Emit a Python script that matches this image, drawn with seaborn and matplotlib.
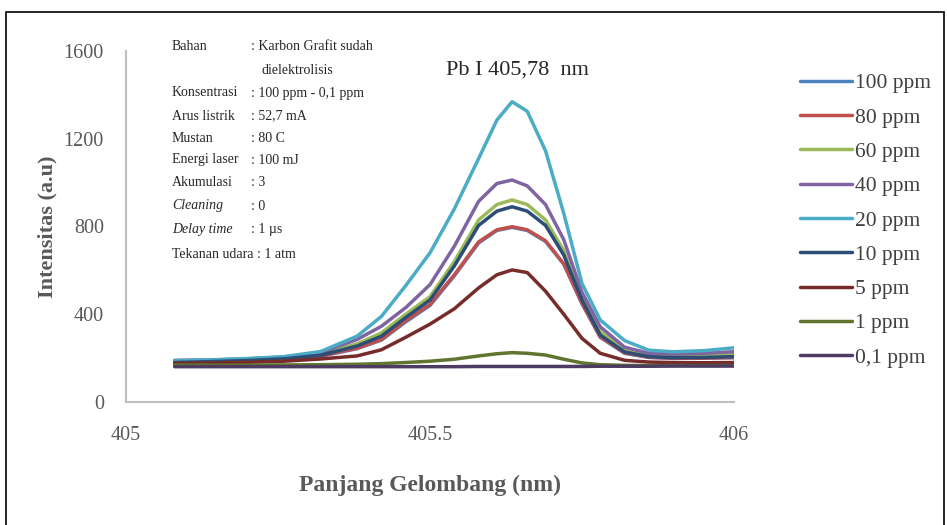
import numpy as np
import pandas as pd
import matplotlib
matplotlib.use("Agg")
import matplotlib.pyplot as plt
import seaborn as sns

# ── data ─────────────────────────────────────────────────────
wavelength = [405.08, 405.14, 405.20, 405.26, 405.32, 405.38, 405.42, 405.46,
              405.50, 405.54, 405.58, 405.61, 405.635, 405.66, 405.69, 405.72,
              405.75, 405.78, 405.82, 405.86, 405.90, 405.95, 406.00]

ppm_100 = [180, 183, 188, 195, 208, 243, 282, 365, 440, 575, 725, 782, 796,
           782, 732, 628, 448, 295, 222, 203, 199, 200, 202]
ppm_80 = [180, 183, 188, 196, 210, 245, 285, 370, 445, 580, 730, 785, 799,
          785, 735, 630, 450, 297, 224, 204, 200, 200, 203]
ppm_60 = [184, 188, 193, 201, 218, 265, 315, 400, 480, 640, 830, 900, 921,
          900, 830, 690, 480, 320, 240, 214, 212, 215, 219]
ppm_40 = [190, 192, 197, 205, 225, 285, 345, 430, 535, 710, 915, 996, 1012,
          985, 900, 740, 500, 343, 250, 222, 218, 222, 229]
ppm_20 = [188, 192, 198, 207, 230, 300, 390, 530, 680, 880, 1110, 1285, 1369,
          1325, 1145, 860, 540, 374, 280, 236, 229, 234, 247]
ppm_10 = [180, 184, 189, 197, 213, 255, 300, 385, 465, 620, 805, 870, 890,
          870, 805, 670, 465, 305, 228, 207, 202, 203, 207]
ppm_5 = [176, 178, 181, 186, 196, 210, 238, 295, 355, 425, 520, 580, 602,
         590, 505, 400, 290, 222, 190, 182, 180, 179, 180]
ppm_1 = [168, 168, 168, 169, 170, 172, 175, 180, 186, 195, 210, 220, 225,
         222, 214, 195, 178, 170, 167, 166, 166, 166, 166]
ppm_01 = [161, 161, 161, 161, 161, 161, 161, 161, 161, 161, 162, 162, 162,
          162, 162, 162, 162, 163, 163, 163, 164, 164, 164]

labels = ["100 ppm", "80 ppm", "60 ppm", "40 ppm", "20 ppm",
          "10 ppm", "5 ppm", "1 ppm", "0,1 ppm"]
series = [ppm_100, ppm_80, ppm_60, ppm_40, ppm_20, ppm_10, ppm_5, ppm_1, ppm_01]
colors = ["#4F81BD", "#C0504D", "#9BBB59", "#8064A2", "#4BACC6",
          "#2C4D75", "#772C2A", "#5F7530", "#4D3B62"]

info_keys = ["Bahan", "", "Konsentrasi", "Arus listrik", "Mustan",
             "Energi laser", "Akumulasi", "Cleaning", "Delay time"]
info_vals = [": Karbon Grafit sudah", "dielektrolisis", ": 100 ppm - 0,1 ppm",
             ": 52,7 mA", ": 80 C", ": 100 mJ", ": 3", ": 0", ": 1 \u00b5s"]
info_last = "Tekanan udara : 1 atm"

df = pd.DataFrame({
    "wl": np.tile(wavelength, len(series)),
    "val": np.concatenate(series),
    "conc": np.repeat(labels, len(wavelength)),
})

# ── plot ──────────────────────────────────────────────────────
sns.set_style("white")
plt.rcParams["font.family"] = ["Liberation Serif", "DejaVu Serif"]

W, H = 947, 525
fig = plt.figure(figsize=(W / 100, H / 100), dpi=100)
ax = fig.add_axes([126 / W, 1 - 402 / H, (734 - 126) / W, (402 - 51) / H])

sns.lineplot(data=df, x="wl", y="val", hue="conc", hue_order=labels,
             palette=colors, linewidth=2.5, ax=ax, legend=False)

ax.set_xlim(405, 406)
ax.set_ylim(0, 1600)
ax.set_xticks([405, 405.5, 406])
ax.set_xticklabels(["405", "405.5", "406"])
ax.set_yticks([0, 400, 800, 1200, 1600])
ax.tick_params(axis="both", length=0, labelsize=14.5, colors="#595959")
ax.tick_params(axis="x", pad=17)
ax.tick_params(axis="y", pad=16)
for s in ["top", "right"]:
    ax.spines[s].set_visible(False)
for s in ["left", "bottom"]:
    ax.spines[s].set_color("#BFBFBF")
    ax.spines[s].set_linewidth(1.5)

ax.set_xlabel("Panjang Gelombang (nm)", fontsize=17, fontweight="bold",
              color="#595959", labelpad=22)
ax.set_ylabel("Intensitas (a.u)", fontsize=16, fontweight="bold",
              color="#595959", labelpad=4)

# legend
handles = [plt.Line2D([], [], color=c, lw=2.5) for c in colors]
fig.legend(handles, labels, loc="upper left", bbox_to_anchor=(781 / W, 1 - 54 / H),
           frameon=False, fontsize=15.5, labelspacing=0.66, handlelength=2.42,
           handletextpad=0.14, labelcolor="#404040")

# info text block
def px(x, y):
    return x / W, 1 - y / H

ys = [47, 70, 93, 116, 138, 160, 183, 206, 229]
for k, v, y in zip(info_keys, info_vals, ys):
    st = "italic" if k in ("Cleaning", "Delay time") else "normal"
    fig.text(*px(172, y), k, fontsize=10, color="#262626", va="center",
             style=st)
    xv = 262 if k == "" else 251
    fig.text(*px(xv, y), v, fontsize=10, color="#262626", va="center")
fig.text(*px(172, 255), info_last, fontsize=10, color="#262626", va="center")

fig.text(*px(446, 70), "Pb I 405,78  nm", fontsize=16, color="#262626",
         va="center")

# outer frame
fig.add_artist(plt.Rectangle((6 / W, -0.01), (944 - 6) / W, 1 - 12 / H + 0.01,
                             transform=fig.transFigure, fill=False,
                             edgecolor="black", lw=1.2))

fig.savefig("out.png", dpi=100)
